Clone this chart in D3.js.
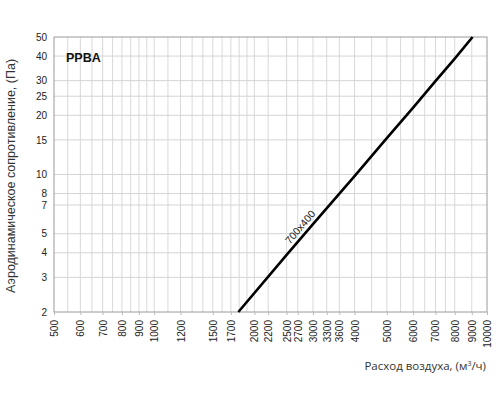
<!DOCTYPE html>
<html>
<head>
  <meta charset="UTF-8">
  <style>
    body { margin: 0; background: white; font-family: Arial, "Liberation Sans", sans-serif; }
    .tick text { font-family: Arial, "Liberation Sans", sans-serif; }
  </style>
</head>
<body>
<svg></svg>
<script src="https://d3js.org/d3.v7.min.js"></script>
<script>

// data
let xTicks = [500, 600, 700, 800, 900, 1000, 1200, 1500, 1700, 2000, 2200, 2500, 2700,
              3000, 3300, 3600, 4000, 5000, 6000, 7000, 8000, 9000, 10000];
let xGrid = [550, 600, 650, 700, 750, 800, 850, 900, 950, 1000, 1100, 1200, 1300, 1400, 1500,
             1600, 1700, 1800, 1900, 2000, 2200, 2500, 2700, 3000, 3300, 3600, 4000, 4500,
             5000, 5500, 6000, 6500, 7000, 7500, 8000, 9000];
let yTicks = [2, 3, 4, 5, 7, 8, 10, 15, 20, 25, 30, 40, 50];
let flow = [1790, 2500, 3000, 4000, 5000, 6000, 7000, 8000, 9050];
let pressure = [2, 3.9, 5.6, 9.8, 15.3, 21.9, 29.8, 38.8, 50];
let seriesName = "700x400";

let width = 500, height = 400;
let m = {left: 54, right: 13, top: 37, bottom: 88};

let svg = d3.select("svg")
    .attr("width", width)
    .attr("height", height);

let x = d3.scaleLog()
    .domain([500, 10000])
    .range([m.left, width - m.right]);

let y = d3.scaleLog()
    .domain([2, 50])
    .range([height - m.bottom, m.top]);

// grid
svg.append("g")
    .selectAll("line")
    .data(xGrid)
    .enter()
    .append("line")
    .attr("x1", d => x(d)).attr("x2", d => x(d))
    .attr("y1", m.top).attr("y2", height - m.bottom)
    .attr("stroke", "#d9d9d9")
    .attr("stroke-width", 1);

svg.append("g")
    .selectAll("line")
    .data(yTicks.slice(1, -1))
    .enter()
    .append("line")
    .attr("x1", m.left).attr("x2", width - m.right)
    .attr("y1", d => y(d)).attr("y2", d => y(d))
    .attr("stroke", "#d4d4d4")
    .attr("stroke-width", 1);

// frame
svg.append("rect")
    .attr("x", m.left)
    .attr("y", m.top)
    .attr("width", width - m.left - m.right)
    .attr("height", height - m.top - m.bottom)
    .attr("fill", "none")
    .attr("stroke", "#9a9a9a")
    .attr("stroke-width", 1);

// x axis
let xAxis = svg.append("g")
    .attr("transform", `translate(0, ${height - m.bottom})`)
    .call(d3.axisBottom(x).tickValues(xTicks).tickFormat(d3.format("d")).tickSize(3).tickSizeOuter(0));
xAxis.select(".domain").remove();
xAxis.selectAll(".tick line").attr("stroke", "#bbb");
xAxis.selectAll(".tick text")
    .attr("transform", "rotate(-90)")
    .attr("text-anchor", "end")
    .attr("x", -8)
    .attr("y", 0)
    .attr("dy", "0.35em")
    .attr("font-size", 10)
    .attr("fill", "#222");

// y axis
let yAxis = svg.append("g")
    .attr("transform", `translate(${m.left}, 0)`)
    .call(d3.axisLeft(y).tickValues(yTicks).tickFormat(d3.format("d")).tickSize(0).tickPadding(7));
yAxis.select(".domain").remove();
yAxis.selectAll(".tick text")
    .attr("font-size", 10)
    .attr("fill", "#222");

// series line
let line = d3.line()
    .x((d, i) => x(flow[i]))
    .y(d => y(d));

svg.append("path")
    .datum(pressure)
    .attr("d", line)
    .attr("fill", "none")
    .attr("stroke", "black")
    .attr("stroke-width", 2.6);

// series label along the line
let lx = x(2860), ly = y(5.1);
let ang = Math.atan2(y(pressure[pressure.length - 1]) - y(pressure[0]),
                     x(flow[flow.length - 1]) - x(flow[0])) * 180 / Math.PI;
svg.append("text")
    .attr("transform", `translate(${lx}, ${ly}) rotate(${ang})`)
    .attr("text-anchor", "middle")
    .attr("dy", -4)
    .attr("font-size", 10.5)
    .attr("fill", "#222")
    .text(seriesName);

// title inside plot
svg.append("text")
    .attr("x", 66)
    .attr("y", 62)
    .attr("font-size", 12.5)
    .attr("font-weight", "bold")
    .attr("fill", "#111")
    .text("PPBA");

// axis titles
svg.append("text")
    .attr("transform", `translate(15, 176) rotate(-90)`)
    .attr("text-anchor", "middle")
    .attr("font-size", 12.5)
    .attr("fill", "#333")
    .text("Аэродинамическое сопротивление, (Па)");

let xt = svg.append("text")
    .attr("x", 486)
    .attr("y", 370)
    .attr("text-anchor", "end")
    .attr("font-size", 11.5)
    .attr("fill", "#333")
    .attr("font-family", "'Open Sans', sans-serif");
xt.append("tspan").text("Расход воздуха, (м");
xt.append("tspan").attr("font-size", 7).attr("dy", -4).text("3");
xt.append("tspan").attr("dy", 4).text("/ч)");

</script>
</body>
</html>
